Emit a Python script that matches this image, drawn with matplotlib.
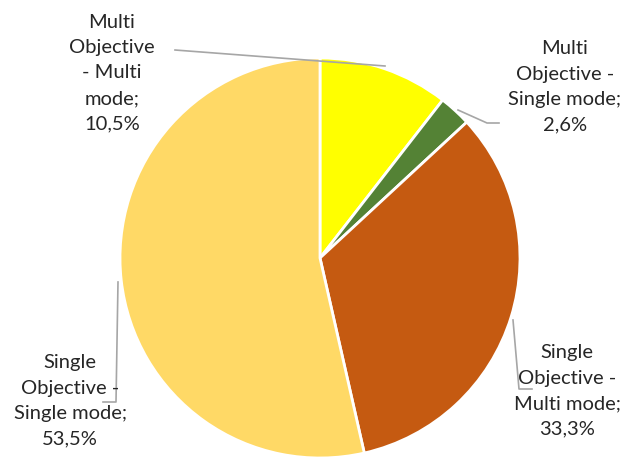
import matplotlib.pyplot as plt

# ── Data ──────────────────────────────────────────────────────────────────────
categories = [
    "Multi Objective - Multi mode",
    "Multi Objective - Single mode",
    "Single Objective - Multi mode",
    "Single Objective - Single mode",
]
shares = [10.5, 2.6, 33.3, 53.5]
colors = ["#FFFF00", "#548235", "#C55A11", "#FFD966"]

# label text as wrapped in the chart
label_text = [
    "Multi\nObjective\n- Multi\nmode;\n10,5%",
    "Multi\nObjective -\nSingle mode;\n2,6%",
    "Single\nObjective -\nMulti mode;\n33,3%",
    "Single\nObjective -\nSingle mode;\n53,5%",
]

W, H = 623, 459
fig = plt.figure(figsize=(W / 100, H / 100), dpi=100)
ax = fig.add_axes([0, 0, 1, 1])

def py(y):
    # pixel rows are counted from the top
    return H - y

ax.pie(shares, colors=colors, startangle=90, counterclock=False,
       center=(320, py(258)), radius=200,
       wedgeprops=dict(edgecolor="white", linewidth=2))

ax.set_xlim(0, W)
ax.set_ylim(0, H)
ax.set_aspect("equal")
ax.axis("off")

# ── Labels + leader lines ─────────────────────────────────────────────────────
label_pos = [(112, 73), (565, 87), (567, 391), (70, 401)]
leaders = [
    [(175, 50), (385, 66)],
    [(458, 110), (487, 123), (499, 123)],
    [(513, 320), (519, 389), (532, 389)],
    [(118, 282), (116, 402), (103, 402)],
]

for txt, (lx, ly), pts in zip(label_text, label_pos, leaders):
    xs = [p[0] for p in pts]
    ys = [py(p[1]) for p in pts]
    ax.plot(xs, ys, color="#A6A6A6", linewidth=1.2, zorder=3)
    ax.text(lx, py(ly), txt, ha="center", va="center", fontsize=14.5,
            family="Lato", color="#262626", linespacing=1.6, zorder=4)

fig.savefig("out.png", dpi=100)
